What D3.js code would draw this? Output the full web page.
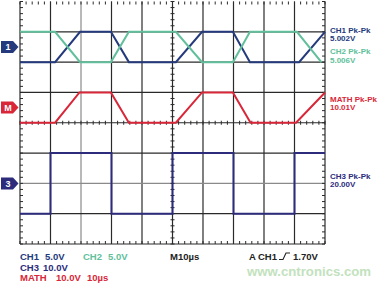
<!DOCTYPE html>
<html><head><meta charset="utf-8">
<script src="https://cdn.jsdelivr.net/npm/d3@7"></script>
<style>body{margin:0;background:#fff}svg{display:block}text{font-family:"Liberation Sans",Arial,sans-serif;font-weight:bold}</style>
</head><body><svg id="c" width="381" height="284"></svg>
<script>
// time axis in microseconds, 10 us/div
const timeDivs = d3.range(0, 101, 10);
// CH1 (5 V/div), CH2 (5 V/div), MATH (10 V/div), CH3 (10 V/div) — volts relative to each channel marker
const ch1T = [0, 11.5, 19.7, 29.8, 35.7, 51.1, 59.7, 69.8, 75.4, 91.5, 100];
const ch1V = [-2.5, -2.5, 2.5, 2.5, -2.5, -2.5, 2.5, 2.5, -2.5, -2.5, 2.5];
const ch2T = [0, 11.5, 19.7, 29.8, 35.7, 51.1, 59.7, 69.8, 75.4, 90.8, 98.8];
const ch2V = [2.5, 2.5, -2.5, -2.5, 2.5, 2.5, -2.5, -2.5, 2.5, 2.5, -2.5];
const mathT = [0, 11.5, 19.5, 29.8, 35.7, 51.1, 59.7, 69.8, 75.6, 90.5, 100];
const mathV = [-5, -5, 5, 5, -5, -5, 5, 5, -5, -5, 5];
const ch3T = [0, 10, 10, 30, 30, 50, 50, 70, 70, 90, 90, 100];
const ch3V = [-10, -10, 10, 10, -10, -10, 10, 10, -10, -10, 10, 10];
const channels = [
  {name:"CH1", t:ch1T, v:ch1V, vdiv:5, offset:2.5, color:"#243a7c"},
  {name:"CH2", t:ch2T, v:ch2V, vdiv:5, offset:2.5, color:"#62bf9b"},
  {name:"MATH", t:mathT, v:mathV, vdiv:10, offset:0.5, color:"#d92638"},
  {name:"CH3", t:ch3T, v:ch3V, vdiv:10, offset:-2, color:"#2d2b7c"}
];
const markers = [
  {label:"1", offset:2.5, color:"#243a7c"},
  {label:"M", offset:0.5, color:"#d92638"},
  {label:"3", offset:-2, color:"#2d2b7c"}
];
const readouts = [
  {lines:["CH1 Pk-Pk","5.002V"], color:"#243a7c", offset:2.5, dy:-13.8},
  {lines:["CH2 Pk-Pk","5.006V"], color:"#62bf9b", offset:2.5, dy:7.4},
  {lines:["MATH Pk-Pk","10.01V"], color:"#d92638", offset:0.5, dy:-5.4},
  {lines:["CH3 Pk-Pk","20.00V"], color:"#2d2b7c", offset:-2, dy:-4.6}
];

const L = 20, R = 325, T = 1.5, B = 244;
const x = d3.scaleLinear().domain([0, 100]).range([L, R]);
const yd = d3.scaleLinear().domain([-4, 4]).range([B, T]);
const svg = d3.select("#c");
svg.append("rect").attr("width",381).attr("height",284).attr("fill","#fff");

const g = svg.append("g");
// grid
const divsY = d3.range(-4, 5, 1);
g.selectAll("line.vx").data(timeDivs).join("line")
  .attr("x1", d => x(d)).attr("x2", d => x(d)).attr("y1", T).attr("y2", B)
  .attr("stroke", d => d === 20 ? "#8a8a8a" : "#2a2a2a").attr("stroke-width", 1.2);
g.selectAll("line.hy").data(divsY).join("line")
  .attr("y1", d => yd(d)).attr("y2", d => yd(d)).attr("x1", L).attr("x2", R)
  .attr("stroke", d => d === -2 ? "#8a8a8a" : (d === 4 ? "none" : "#2a2a2a")).attr("stroke-width", 1.2);
// minor ticks
const minorX = d3.range(0, 100.01, 2);
const minorY = d3.range(-4, 4.01, 0.2);
const tk = g.append("g").attr("stroke", "#2a2a2a").attr("stroke-width", 1);
minorX.forEach(t => {
  tk.append("line").attr("x1", x(t)).attr("x2", x(t)).attr("y1", T).attr("y2", T + 3);
  tk.append("line").attr("x1", x(t)).attr("x2", x(t)).attr("y1", B).attr("y2", B - 3);
  tk.append("line").attr("x1", x(t)).attr("x2", x(t)).attr("y1", yd(0) - 2).attr("y2", yd(0) + 2);
});
minorY.forEach(d => {
  tk.append("line").attr("y1", yd(d)).attr("y2", yd(d)).attr("x1", L).attr("x2", L + 3);
  tk.append("line").attr("y1", yd(d)).attr("y2", yd(d)).attr("x1", R).attr("x2", R - 3);
  tk.append("line").attr("y1", yd(d)).attr("y2", yd(d)).attr("x1", x(50) - 2).attr("x2", x(50) + 2);
});

// waveforms
const line = d3.line();
channels.forEach(c => {
  const pts = c.t.map((t, i) => [x(t), yd(c.offset + c.v[i] / c.vdiv)]);
  svg.append("path").attr("d", line(pts)).attr("fill", "none")
    .attr("stroke", c.color).attr("stroke-width", 2).attr("stroke-linejoin", "miter");
});

// channel markers
markers.forEach(m => {
  const cy = yd(m.offset);
  const mg = svg.append("g");
  mg.append("path").attr("d", `M1,${cy-6} L13,${cy-6} L18.5,${cy} L13,${cy+6} L1,${cy+6} Z`)
    .attr("fill", m.color);
  mg.append("text").attr("x", 8).attr("y", cy + 3.3).attr("text-anchor", "middle")
    .attr("font-size", 9).attr("fill", "#fff").text(m.label);
});

// right readouts
readouts.forEach(r => {
  const cy = yd(r.offset) + r.dy;
  r.lines.forEach((s, i) => {
    svg.append("text").attr("x", 330).attr("y", cy + i * 8.3).attr("font-size", 8)
      .attr("fill", r.color).text(s);
  });
});

// bottom settings
const bottomTexts = [
  {s:"CH1", x:20, y:260, c:"#243a7c"}, {s:"5.0V", x:45, y:260, c:"#243a7c"},
  {s:"CH2", x:83, y:260, c:"#62bf9b"}, {s:"5.0V", x:108, y:260, c:"#62bf9b"},
  {s:"CH3", x:20, y:270.5, c:"#2d2b7c"}, {s:"10.0V", x:43, y:270.5, c:"#2d2b7c"},
  {s:"MATH", x:20, y:281, c:"#d92638"}, {s:"10.0V", x:56, y:281, c:"#d92638"}, {s:"10µs", x:87, y:281, c:"#d92638"},
  {s:"M10µs", x:170, y:260, c:"#222"},
  {s:"A", x:249, y:260, c:"#222"}, {s:"CH1", x:258, y:260, c:"#222"}, {s:"1.70V", x:293, y:260, c:"#222"}
];
svg.selectAll("text.bt").data(bottomTexts).join("text")
  .attr("x", d => d.x).attr("y", d => d.y).attr("font-size", 9.5).attr("fill", d => d.c).text(d => d.s);
// rising edge trigger symbol
svg.append("path").attr("d", "M279,259.5 L283,259.5 L286,253 L290,253").attr("fill", "none")
  .attr("stroke", "#222").attr("stroke-width", 1.1);

// watermark
svg.append("text").attr("x", 247).attr("y", 276).attr("font-size", 13.2)
  .attr("font-weight", "normal").attr("fill", "#c2e2bd").text("www.cntronics.com");
</script></body></html>
